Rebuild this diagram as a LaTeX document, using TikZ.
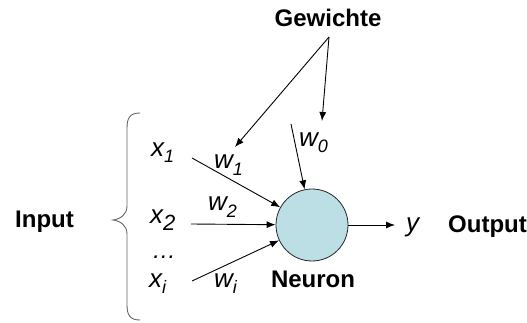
\documentclass[tikz,border=0pt]{standalone}
\usepackage{fontspec}
\setmainfont{Liberation Sans}
\usetikzlibrary{arrows.meta}
\newcommand\subtxt[1]{\raisebox{-6pt}{\fontsize{18}{18}\selectfont\itshape #1}}
\newcommand\bigsubtxt[1]{\raisebox{-7pt}{\fontsize{22}{22}\selectfont\itshape #1}}
\definecolor{neuronfill}{HTML}{BCDFE6}
\tikzset{
  bigbold/.style={font=\fontsize{24}{24}\selectfont\bfseries, inner sep=0pt},
  var/.style={font=\fontsize{26}{26}\selectfont\itshape, inner sep=0pt, anchor=base west},
  conn/.style={line width=0.9pt, -{Latex[length=9pt,width=7pt]}},
  neuronstyle/.style={circle, draw=black!85, line width=0.8pt, fill=neuronfill, minimum size=72pt, inner sep=0pt},
}
\begin{document}
\begin{tikzpicture}[x=1pt,y=-1pt]
\useasboundingbox (0,0) rectangle (527,323);
% nodes
\node[neuronstyle] (neuron) at (312,225) {};
\node[bigbold, anchor=base] (gew) at (328,27) {Gewichte};
\node[bigbold, anchor=base] (neuronlbl) at (313,287) {Neuron};
\node[bigbold, anchor=base west] (input) at (15,227) {Input};
\node[bigbold, anchor=base west] (output) at (448,233) {Output};
\node[var] (x1) at (151,157) {x\subtxt{1}};
\node[var] (x2) at (150,223) {x\bigsubtxt{2}};
\node[var] (xi) at (149,287) {x\subtxt{i}};
\node[font=\fontsize{24}{24}\selectfont\itshape, inner sep=0pt, anchor=base] (dots) at (164,258) {\dots};
\node[var] (w1) at (214,169) {w\subtxt{1}};
\node[var] (w2) at (208,211) {w\subtxt{2}};
\node[var] (wi) at (214,287) {w\subtxt{i}};
\node[var] (w0) at (299,147) {w\subtxt{0}};
\node[var] (y) at (406,231) {y};
% coordinates
\coordinate (gsrc) at (329,37);
\coordinate (w1tip) at (235,147);
\coordinate (w0tip) at (322,121);
\coordinate (w0src) at (291,124);
\coordinate (x1src) at (192,158);
\coordinate (x2src) at (191,224);
\coordinate (xisrc) at (192,281);
\coordinate (ytip) at (395,225);
% connectors
\draw[conn] (gsrc) -- (w1tip);
\draw[conn] (gsrc) -- (w0tip);
\draw[conn] (w0src) -- (neuron);
\draw[conn] (x1src) -- (neuron);
\draw[conn] (x2src) -- (neuron);
\draw[conn] (xisrc) -- (neuron);
\draw[conn] (neuron) -- (ytip);
% brace
\draw[black!60, line width=0.9pt] (140,113) .. controls (130,113) and (127,118) .. (127,128)
  -- (127,206) .. controls (127,214) and (121,219) .. (113,220)
  .. controls (121,221) and (127,226) .. (127,234)
  -- (127,305) .. controls (127,315) and (130,320) .. (140,320);
\end{tikzpicture}
\end{document}
